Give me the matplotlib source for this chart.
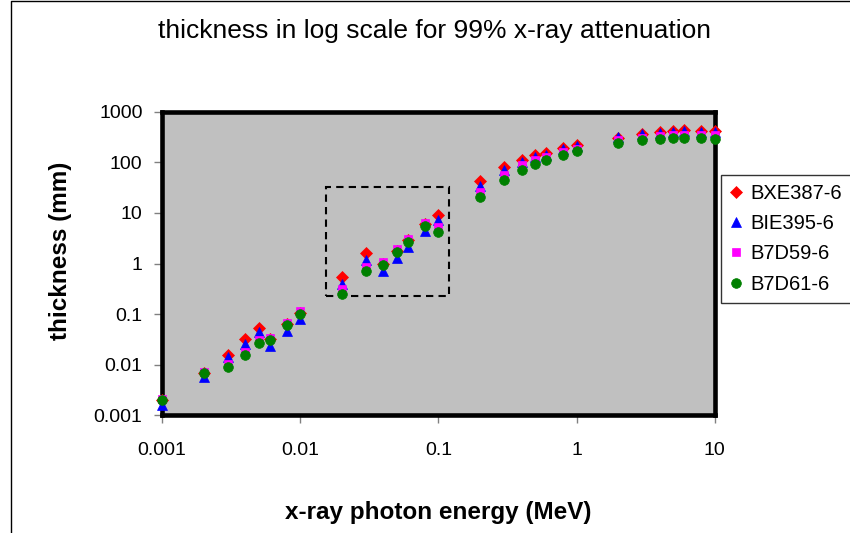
import matplotlib
matplotlib.use("Agg")
import matplotlib.pyplot as plt
from matplotlib.patches import Rectangle

plt.rcParams['font.family'] = ['Liberation Sans', 'DejaVu Sans']

# ---- data ----
energy_mev = [0.001, 0.002, 0.003, 0.004, 0.005, 0.006, 0.008, 0.01,
              0.02, 0.03, 0.04, 0.05, 0.06, 0.08, 0.1,
              0.2, 0.3, 0.4, 0.5, 0.6, 0.8, 1,
              2, 3, 4, 5, 6, 8, 10]

bxe387 = [0.0020, 0.0069, 0.0158, 0.032, 0.052, 0.032, 0.063, 0.107,
          0.54, 1.60, 1.00, 1.78, 2.85, 5.9, 9.2,
          42.7, 81, 109, 137, 155, 195, 224,
          300, 360, 398, 416, 429, 416, 410]

bie395 = [0.0016, 0.0057, 0.0142, 0.0253, 0.0443, 0.0231, 0.0464, 0.080,
          0.40, 1.19, 0.70, 1.28, 2.12, 4.39, 7.14,
          33.6, 69.5, 101, 127, 142, 186, 210,
          316, 369, 386, 400, 410, 400, 395]

b7d59 = [0.0021, 0.0072, 0.0105, 0.0178, 0.0313, 0.0343, 0.0667, 0.114,
         0.319, 0.853, 1.07, 1.91, 3.10, 6.3, 5.27,
         25.9, 55.3, 87.3, 109, 127, 160, 186,
         272, 307, 327, 342, 342, 352, 342]

b7d61 = [0.00198, 0.00676, 0.00917, 0.0155, 0.0273, 0.0308, 0.060, 0.102,
         0.254, 0.711, 0.92, 1.66, 2.66, 5.6, 4.14,
         20.6, 45.5, 70.5, 91, 109, 139, 167,
         245, 276, 294, 307, 302, 302, 294]

series_names = ['BXE387-6', 'BIE395-6', 'B7D59-6', 'B7D61-6']
x_ticks = [0.001, 0.01, 0.1, 1, 10]
x_tick_labels = ['0.001', '0.01', '0.1', '1', '10']
y_ticks = [0.001, 0.01, 0.1, 1, 10, 100, 1000]
y_tick_labels = ['0.001', '0.01', '0.1', '1', '10', '100', '1000']

title = 'thickness in log scale for 99% x-ray attenuation'
x_label = 'x-ray photon energy (MeV)'
y_label = 'thickness (mm)'

# ---- figure ----
W, H = 850, 533
fig = plt.figure(figsize=(W / 100, H / 100), dpi=100)
fig.patch.set_facecolor('white')

# outer chart border (left and top edges visible)
fig.add_artist(plt.Line2D([10.5 / W, 10.5 / W, 1.0], [0.0, 1 - 0.5 / H, 1 - 0.5 / H],
                          transform=fig.transFigure, color='black', linewidth=1.0))

ax = fig.add_axes([162 / W, 1 - 415.3 / H, (714.7 - 162) / W, (415.3 - 111.7) / H])
ax.set_facecolor('#C0C0C0')
ax.set_xscale('log')
ax.set_yscale('log')
ax.set_xlim(0.001, 10)
ax.set_ylim(0.001, 1000)

styles = [
    dict(marker='D', color='#FF0000', ms=6.0),
    dict(marker='^', color='#0000FF', ms=7.0),
    dict(marker='s', color='#FF00FF', ms=6.0),
    dict(marker='o', color='#008000', ms=7.0),
]
data = [bxe387, bie395, b7d59, b7d61]
for i, (vals, name, st) in enumerate(zip(data, series_names, styles)):
    ax.plot(energy_mev, vals, linestyle='none', marker=st['marker'],
            markersize=st['ms'], markerfacecolor=st['color'],
            markeredgecolor=st['color'], markeredgewidth=0.5,
            label=name, clip_on=False, zorder=5 + i)

for s in ax.spines.values():
    s.set_linewidth(3.3)
    s.set_color('black')
    s.set_zorder(3)

ax.set_xticks(x_ticks)
ax.set_xticklabels(x_tick_labels)
ax.set_yticks(y_ticks)
ax.set_yticklabels(y_tick_labels)
ax.minorticks_off()
ax.tick_params(axis='both', which='major', direction='out', length=6,
               width=1.0, color='#808080', labelsize=14, labelcolor='black')
ax.tick_params(axis='y', pad=8)
ax.tick_params(axis='x', pad=13)

# dashed highlight box (axes fractions)
ax.add_patch(Rectangle((0.2967, 0.393), 0.5193 - 0.2967, 0.751 - 0.393,
                       transform=ax.transAxes, fill=False, edgecolor='black',
                       linestyle=(0, (3.5, 2.5)), linewidth=1.5, zorder=4))

fig.text(435 / W, 1 - 31 / H, title, ha='center', va='center', fontsize=19)
fig.text(438 / W, 1 - 512 / H, x_label, ha='center', va='center',
         fontsize=17.5, fontweight='bold')
fig.text(60 / W, 1 - 251 / H, y_label, ha='center', va='center',
         fontsize=17.5, fontweight='bold', rotation=90)

leg = fig.legend(loc='upper left', bbox_to_anchor=(721 / W, 1 - 174.7 / H),
                 frameon=True, fancybox=False, edgecolor='black',
                 fontsize=14.5, handlelength=0.6, handletextpad=0.4,
                 labelspacing=0.56, borderpad=0.45, borderaxespad=0.0,
                 markerscale=1.0)
leg.get_frame().set_linewidth(1.0)

fig.savefig('out.png', dpi=100)
